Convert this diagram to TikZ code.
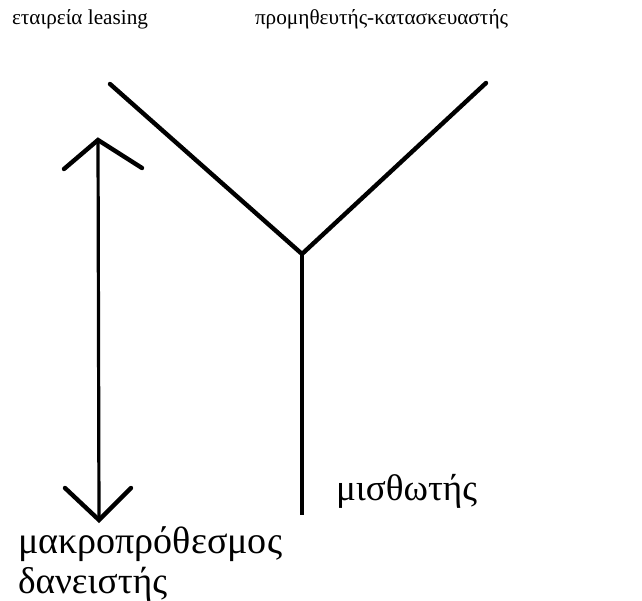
\documentclass[tikz,border=0pt]{standalone}
\usepackage{fontspec}
\setmainfont{Liberation Serif}
\tikzset{
  thick line/.style={line width=4.4pt, line cap=round, line join=miter},
  thin line/.style={line width=3.2pt, line cap=butt},
  lbl/.style={anchor=base west, inner sep=0pt, outer sep=0pt},
}
\begin{document}
\begin{tikzpicture}[x=1pt,y=-1pt]
\useasboundingbox (0,0) rectangle (642,601);
% Y shape
\coordinate (L) at (110,84);
\coordinate (R) at (486,83);
\coordinate (J) at (302,254);
\coordinate (B) at (302,515);
\draw[thick line] (L) -- (J) -- (R);
\draw[thin line] (J) -- (B);
% double arrow
\coordinate (T) at (98,140);
\coordinate (D) at (99,520);
\coordinate (TL) at (64,169);
\coordinate (TR) at (142,168);
\coordinate (DL) at (65,488);
\coordinate (DR) at (131,488);
\draw[thin line] (T) -- (D);
\draw[thick line] (TL) -- (T) -- (TR);
\draw[thick line] (DL) -- (D) -- (DR);
% labels
\node[lbl] (leasing) at (12,25) {\resizebox{136pt}{!}{εταιρεία leasing}};
\node[lbl] (supplier) at (255,25) {\resizebox{253pt}{!}{προμηθευτής-κατασκευαστής}};
\node[lbl] (lessee) at (336,500) {\resizebox{141pt}{!}{μισθωτής}};
\node[lbl] (lender1) at (18,553) {\resizebox{264pt}{!}{μακροπρόθεσμος}};
\node[lbl] (lender2) at (18,593) {\resizebox{149pt}{!}{δανειστής}};
\end{tikzpicture}
\end{document}
